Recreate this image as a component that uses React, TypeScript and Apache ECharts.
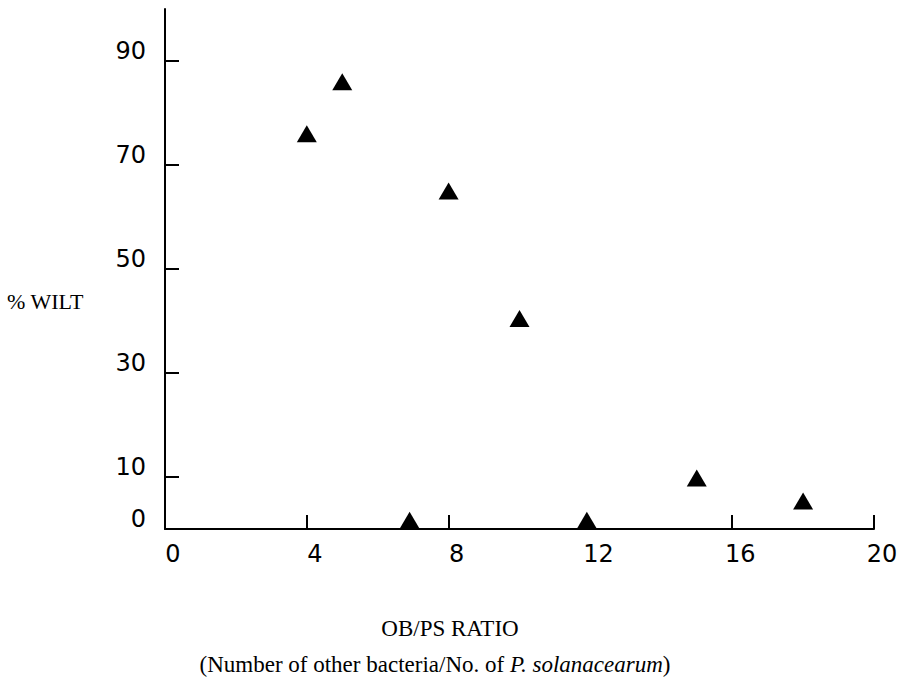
import React, { useEffect, useRef } from "react";
import * as echarts from "echarts";

const ratioX = [4, 5, 8, 10, 6.9, 11.9, 15, 18];
const wiltY = [76, 86, 65, 40.5, 1.7, 1.7, 9.8, 5.4];
const xTicks = [4, 8, 16, 20];
const yLabels = [0, 10, 30, 50, 70, 90];
const yTicks = [10, 30, 50, 70, 90];

export default function App() {
  const ref = useRef<HTMLDivElement>(null);
  useEffect(() => {
    if (!ref.current) return;
    const chart = echarts.init(ref.current, undefined, { renderer: "svg" });
    const numFont = "'DejaVu Sans', sans-serif";
    const serif = "'Liberation Serif', 'DejaVu Serif', serif";
    chart.setOption({
      animation: false,
      backgroundColor: "#ffffff",
      grid: { left: 165, right: 44, top: 9, bottom: 153 },
      xAxis: {
        type: "value",
        min: 0,
        max: 20,
        interval: 4,
        axisLine: { lineStyle: { color: "#000", width: 2 } },
        axisTick: {
          show: true,
          inside: true,
          length: 14,
          customValues: xTicks,
          lineStyle: { color: "#000", width: 2 },
        },
        axisLabel: {
          color: "#000",
          fontFamily: numFont,
          fontSize: 24,
          margin: 13,
          padding: [0, 0, 0, 16],
        },
        splitLine: { show: false },
      },
      yAxis: {
        type: "value",
        min: 0,
        max: 100,
        interval: 10,
        axisLine: { lineStyle: { color: "#000", width: 2 } },
        axisTick: {
          show: true,
          inside: true,
          length: 14,
          customValues: yTicks,
          lineStyle: { color: "#000", width: 2 },
        },
        axisLabel: {
          color: "#000",
          fontFamily: numFont,
          fontSize: 24,
          lineHeight: 20,
          margin: 19,
          verticalAlign: "bottom",
          customValues: yLabels,
        },
        splitLine: { show: false },
      },
      graphic: [
        {
          type: "text",
          left: 7,
          top: 290,
          style: { text: "% WILT", font: `22px ${serif}`, fill: "#000" },
        },
        {
          type: "text",
          x: 450,
          y: 628,
          style: {
            text: "OB/PS RATIO",
            font: `23px ${serif}`,
            fill: "#000",
            align: "center",
            verticalAlign: "middle",
          },
        },
        {
          type: "text",
          x: 435,
          y: 664,
          style: {
            text: "(Number of other bacteria/No. of {i|P. solanacearum})",
            font: `23px ${serif}`,
            fill: "#000",
            align: "center",
            verticalAlign: "middle",
            rich: {
              i: { fontStyle: "italic", fontFamily: serif, fontSize: 23, fill: "#000" },
            },
          },
        },
      ],
      series: [
        {
          type: "scatter",
          symbol: "triangle",
          symbolSize: [20, 17],
          itemStyle: { color: "#000", opacity: 1 },
          data: ratioX.map((x, i) => [x, wiltY[i]]),
        },
      ],
    });
    return () => chart.dispose();
  }, []);
  return <div ref={ref} style={{ width: 918, height: 682, position: "absolute", left: 0, top: 0 }} />;
}
